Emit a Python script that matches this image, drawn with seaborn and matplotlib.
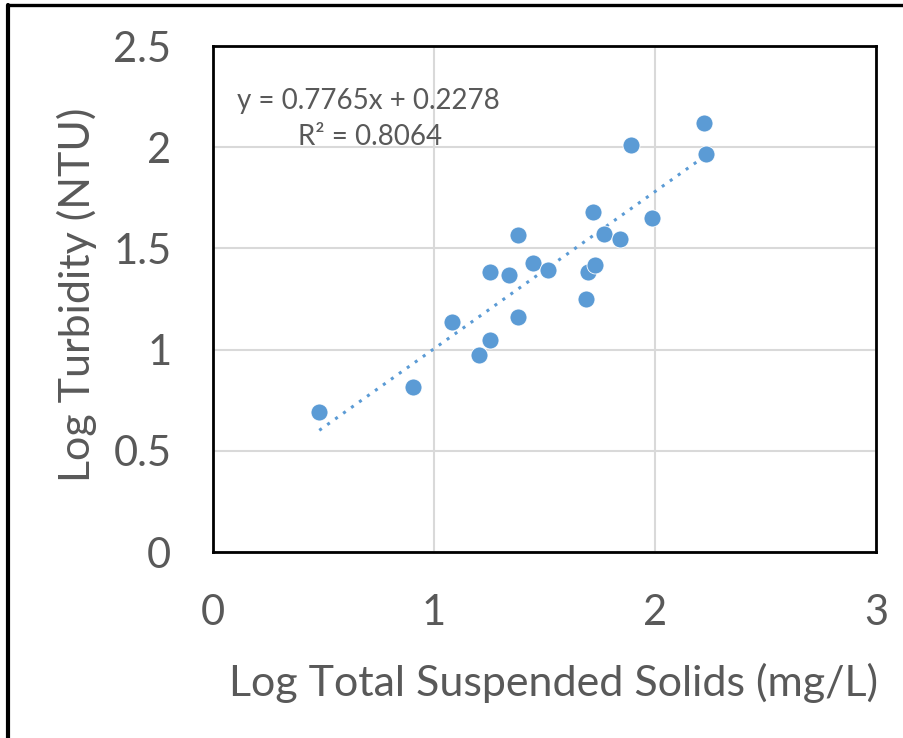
import numpy as np
import pandas as pd
import seaborn as sns
import matplotlib.pyplot as plt
from matplotlib.lines import Line2D

# values
log_tss = [0.481, 0.905, 1.080, 1.204, 1.255, 1.255, 1.341, 1.380, 1.380, 1.447, 1.517,
           1.688, 1.695, 1.730, 1.721, 1.768, 1.842, 1.890, 1.988, 2.222, 2.232]
log_turb = [0.690, 0.815, 1.136, 0.975, 1.047, 1.385, 1.367, 1.160, 1.566, 1.426, 1.392,
            1.250, 1.383, 1.416, 1.678, 1.573, 1.548, 2.012, 1.649, 2.120, 1.968]
slope = 0.7765
intercept = 0.2278
r_squared = 0.8064

x_ticks = [0, 1, 2, 3]
y_ticks = [0, 0.5, 1, 1.5, 2, 2.5]
y_tick_labels = ["0", "0.5", "1", "1.5", "2", "2.5"]

sns.set_style("white")
plt.rcParams['font.family'] = ['Lato', 'DejaVu Sans']

df = pd.DataFrame({"tss": log_tss, "turb": log_turb})

# trendline from fitted equation
trend_x = np.array([min(log_tss), max(log_tss)])
trend = pd.DataFrame({"tss": trend_x, "turb": slope * trend_x + intercept})

fig = plt.figure(figsize=(9.04, 7.38), dpi=100)
ax = fig.add_axes([0.2356, 0.252, 0.7334, 0.6856])

grey = "#595959"
blue = "#5b9bd5"

sns.lineplot(data=trend, x="tss", y="turb", ax=ax, color=blue, linestyle=(0, (1, 2.2)),
             linewidth=2.2, zorder=2)
sns.scatterplot(data=df, x="tss", y="turb", ax=ax, color=blue, s=150, edgecolor="white",
                linewidth=0.6, zorder=3)

ax.set_xlim(0, 3)
ax.set_ylim(0, 2.5)
ax.set_xticks(x_ticks)
ax.set_yticks(y_ticks)
ax.set_yticklabels(y_tick_labels)
ax.grid(True, color="#d9d9d9", linewidth=1.5)
ax.set_axisbelow(True)
for s in ax.spines.values():
    s.set_color("black")
    s.set_linewidth(2)
ax.tick_params(axis="both", length=0, labelsize=30, colors=grey)
ax.tick_params(axis="y", pad=30)
ax.tick_params(axis="x", pad=30)

ax.set_xlabel("Log Total Suspended Solids (mg/L)", fontsize=31, color=grey)
ax.set_ylabel("Log Turbidity (NTU)", fontsize=31, color=grey)
ax.xaxis.label.set_va("center")
ax.yaxis.label.set_va("center")
ax.xaxis.set_label_coords(0.513, -0.259)
ax.yaxis.set_label_coords(-0.205, 0.508)

ax.text(0.11, 2.228, f"y = {slope}x + {intercept}", fontsize=20, color=grey,
        ha="left", va="center")
ax.text(0.71, 2.05, f"R² = {r_squared}", fontsize=20, color=grey, ha="center", va="center")

# outer frame of the original picture (top and left edges)
fig.add_artist(Line2D([0.0088, 1.0], [0.9935, 0.9935], color="black", linewidth=2.4))
fig.add_artist(Line2D([0.0088, 0.0088], [0.0, 0.9935], color="black", linewidth=3))

fig.savefig("out.png", dpi=100)
